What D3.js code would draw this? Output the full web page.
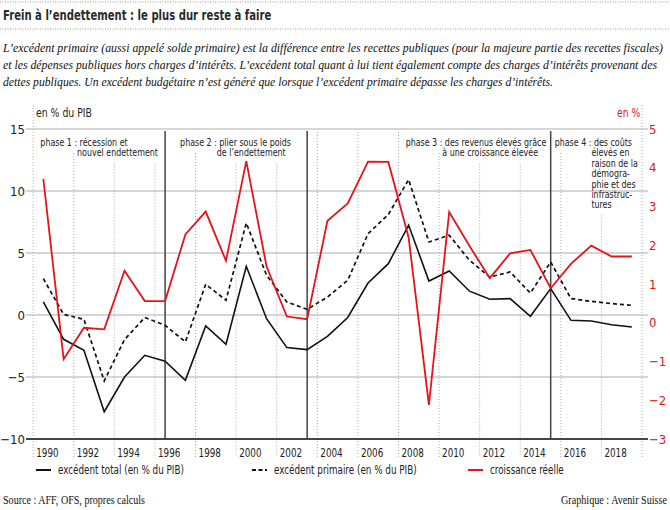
<!DOCTYPE html>
<html>
<head>
<meta charset="utf-8">
<script src="https://cdn.jsdelivr.net/npm/d3@7"></script>
<style>
body { margin: 0; background: #fff; }
svg { display: block; }
.narrow { font-family: "Liberation Sans Narrow", "DejaVu Sans Condensed", sans-serif; }
.serif { font-family: "Liberation Serif", serif; }
</style>
</head>
<body>
<svg id="chart" width="670" height="510"></svg>
<script>
var years = d3.range(1990, 2020);

// excédent total, % du PIB
var totalSurplus = [1.05, -1.96, -2.85, -7.8, -5.0, -3.25, -3.73, -5.27, -0.88, -2.36,
    3.93, -0.3, -2.63, -2.79, -1.72, -0.2, 2.58, 4.14, 7.25, 2.74,
    3.55, 1.92, 1.27, 1.32, -0.1, 2.13, -0.43, -0.48, -0.78, -0.97];

// excédent primaire, % du PIB
var primarySurplus = [2.93, 0.05, -0.35, -5.32, -1.98, -0.2, -0.83, -2.17, 2.48, 1.19,
    7.42, 3.2, 1.05, 0.46, 1.45, 2.8, 6.56, 8.1, 10.92, 5.89,
    6.43, 4.41, 3.06, 3.47, 1.77, 4.27, 1.32, 1.1, 0.92, 0.78];

// croissance réelle, %
var realGrowth = [3.71, -0.94, -0.13, -0.17, 1.34, 0.56, 0.56, 2.28, 2.87, 1.6,
    4.17, 1.45, 0.16, 0.09, 2.63, 3.08, 4.16, 4.15, 2.2, -2.12,
    2.86, 1.98, 1.15, 1.79, 1.88, 0.89, 1.52, 1.99, 1.71, 1.71];

var leftTicks = [-10, -5, 0, 5, 10, 15];
var rightTicks = [-3, -2, -1, 0, 1, 2, 3, 4, 5];
var yearLabels = d3.range(1990, 2020, 2);
var phaseBreaks = [1996, 2003, 2015];

var phases = [
    {year: 1990, lines: ["phase 1 : récession et", "nouvel endettement"]},
    {year: 1996, lines: ["phase 2 : plier sous le poids", "de l’endettement"]},
    {year: 2008, lines: ["phase 3 : des revenus élevés grâce", "à une croissance élevée"]},
    {year: 2015, lines: ["phase 4 : des coûts", "élevés en", "raison de la", "démogra-", "phie et des", "infrastruc-", "tures"]}
];
var phaseOffsets = [-3, 15, -3, 4];

var title = "Frein à l’endettement : le plus dur reste à faire";
var subtitle = [
    "L’excédent primaire (aussi appelé solde primaire) est la différence entre les recettes publiques (pour la majeure partie des recettes fiscales)",
    "et les dépenses publiques hors charges d’intérêts. L’excédent total quant à lui tient également compte des charges d’intérêts provenant des",
    "dettes publiques. Un excédent budgétaire n’est généré que lorsque l’excédent primaire dépasse les charges d’intérêts."
];
var legendItems = [
    {label: "excédent total (en % du PIB)", kind: "total"},
    {label: "excédent primaire (en % du PIB)", kind: "primary"},
    {label: "croissance réelle", kind: "growth"}
];

var red = "#e3141b";
var svg = d3.select("#chart");

// the original uses a DIN-like condensed face; squeeze the fallback to match
function squeeze(sel, k) {
    sel.each(function() {
        var w = this.getComputedTextLength();
        d3.select(this).attr("textLength", w * k).attr("lengthAdjust", "spacingAndGlyphs");
    });
    return sel;
}

var x = d3.scaleBand().domain(years).range([33.2, 642]);
var cx = function(yr) { return x(yr) + x.bandwidth() / 2; };
var yL = d3.scaleLinear().domain([-10, 15]).range([439, 129]);
var yR = d3.scaleLinear().domain([-3, 5]).range([439, 129]);

// header
[2, 29].forEach(function(yy) {
    svg.append("line").attr("x1", 0).attr("x2", 670).attr("y1", yy).attr("y2", yy)
        .attr("stroke", "#999").attr("stroke-dasharray", "1,1.5");
});
squeeze(svg.append("text").attr("class", "narrow").attr("x", 3).attr("y", 20)
    .attr("font-size", 14).attr("font-weight", "bold").attr("fill", "#2a2a2a")
    .text(title), 0.8);
var subWidths = [660, 654, 550];
subtitle.forEach(function(s, i) {
    svg.append("text").attr("class", "serif").attr("x", 3).attr("y", 52 + i * 17)
        .attr("font-size", 13).attr("font-style", "italic").attr("fill", "#111")
        .attr("textLength", subWidths[i]).attr("lengthAdjust", "spacingAndGlyphs")
        .text(s);
});

// horizontal grid
svg.append("g").selectAll("line").data(leftTicks.filter(d => d > -10)).enter()
    .append("line")
    .attr("x1", 26).attr("x2", 648)
    .attr("y1", d => yL(d)).attr("y2", d => yL(d))
    .attr("stroke", "#c8c8c8").attr("stroke-width", 1.6);

// phase labels
var k = 0.84;
var labelG = svg.append("g").attr("class", "narrow").attr("font-size", 10.5).attr("fill", "#222");
phases.forEach(function(p, i) {
    var x0 = cx(p.year) + phaseOffsets[i];
    var prefix = labelG.append("text").attr("x", 0).attr("y", -50).text(p.lines[0].slice(0, 10));
    var indent = prefix.node().getComputedTextLength() * k;
    prefix.remove();
    squeeze(labelG.append("text").attr("x", x0).attr("y", 146).text(p.lines[0]), k);
    p.lines.slice(1).forEach(function(l, j) {
        squeeze(labelG.append("text").attr("x", x0 + indent).attr("y", 146 + (j + 1) * 10.4).text(l), k);
    });
});

// vertical dotted grid, starting below any label above it
var boxes = [];
labelG.selectAll("text").each(function() { boxes.push(this.getBBox()); });
var gridYears = d3.range(1990, 2021, 2);
svg.append("g").selectAll("line").data(gridYears).enter()
    .append("line")
    .attr("x1", d => d === 2020 ? 642 : x(d)).attr("x2", d => d === 2020 ? 642 : x(d))
    .attr("y1", function(d) {
        if (d === 1990 || d === 2020) return 105;
        var gx = x(d), top = 132;
        boxes.forEach(function(b) {
            if (gx >= b.x - 2 && gx <= b.x + b.width + 2) top = Math.max(top, b.y + b.height + 5);
        });
        return top;
    })
    .attr("y2", 457)
    .attr("stroke", "#aaa").attr("stroke-dasharray", "1,2");

// phase separators
svg.append("g").selectAll("line").data(phaseBreaks).enter()
    .append("line")
    .attr("x1", d => cx(d)).attr("x2", d => cx(d))
    .attr("y1", 131).attr("y2", 439)
    .attr("stroke", "#444").attr("stroke-width", 1.5);

// bottom axis line
svg.append("line").attr("x1", 26).attr("x2", 648).attr("y1", 439).attr("y2", 439)
    .attr("stroke", "#444").attr("stroke-width", 2);

// axis labels
var fmt = d3.format("d");
svg.append("g").attr("class", "narrow").attr("font-size", 13).attr("fill", "#222")
    .selectAll("text").data(leftTicks).enter().append("text")
    .attr("x", 25).attr("y", d => yL(d) + 4.5).attr("text-anchor", "end")
    .text(d => fmt(d));
svg.append("g").attr("class", "narrow").attr("font-size", 13).attr("fill", red)
    .selectAll("text").data(rightTicks).enter().append("text")
    .attr("x", 649).attr("y", d => yR(d) + 4.5)
    .text(d => fmt(d));
squeeze(svg.append("text").attr("class", "narrow").attr("font-size", 11.5).attr("fill", "#222")
    .attr("x", 36).attr("y", 117).text("en % du PIB"), 0.9);
squeeze(svg.append("text").attr("class", "narrow").attr("font-size", 11.5).attr("fill", red)
    .attr("x", 617).attr("y", 117).text("en %"), 0.9);

// year labels
squeeze(svg.append("g").attr("class", "narrow").attr("font-size", 11.5).attr("fill", "#222")
    .selectAll("text").data(yearLabels).enter().append("text")
    .attr("x", d => x(d) + 3).attr("y", 457)
    .text(d => d), 0.85);

// lines
var lineL = d3.line().x((d, i) => cx(years[i])).y(d => yL(d));
var lineR = d3.line().x((d, i) => cx(years[i])).y(d => yR(d));
svg.append("path").datum(primarySurplus).attr("d", lineL)
    .attr("fill", "none").attr("stroke", "#111").attr("stroke-width", 1.7)
    .attr("stroke-dasharray", "4,3");
svg.append("path").datum(totalSurplus).attr("d", lineL)
    .attr("fill", "none").attr("stroke", "#111").attr("stroke-width", 1.6);
svg.append("path").datum(realGrowth).attr("d", lineR)
    .attr("fill", "none").attr("stroke", red).attr("stroke-width", 1.8);

// legend
var legendX = [36, 252, 468];
var legend = svg.append("g").attr("class", "narrow").attr("font-size", 11.5).attr("fill", "#222");
legendItems.forEach(function(it, i) {
    var l = legend.append("line").attr("x1", legendX[i]).attr("x2", legendX[i] + 15)
        .attr("y1", 470).attr("y2", 470).attr("stroke-width", 2)
        .attr("stroke", it.kind === "growth" ? red : "#111");
    if (it.kind === "primary") l.attr("stroke-dasharray", "4,2.5");
    squeeze(legend.append("text").attr("x", legendX[i] + 22).attr("y", 474).text(it.label), 0.85);
});

// footer
svg.append("text").attr("class", "serif").attr("font-size", 11.5).attr("fill", "#111")
    .attr("x", 3).attr("y", 504).attr("textLength", 142).attr("lengthAdjust", "spacingAndGlyphs")
    .text("Source : AFF, OFS, propres calculs");
svg.append("text").attr("class", "serif").attr("font-size", 11.5).attr("fill", "#111")
    .attr("x", 561).attr("y", 504)
    .attr("textLength", 106).attr("lengthAdjust", "spacingAndGlyphs")
    .text("Graphique : Avenir Suisse");
</script>
</body>
</html>
